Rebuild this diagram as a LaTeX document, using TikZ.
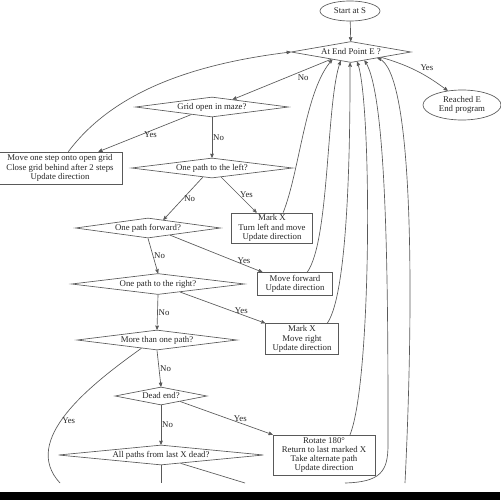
\documentclass[tikz,border=0pt]{standalone}
\usepackage{fontspec}
\setmainfont{Liberation Serif}
\usetikzlibrary{arrows}
\usetikzlibrary{shapes.geometric}

\definecolor{ink}{gray}{0.15}
\definecolor{wire}{gray}{0.35}
\newcommand{\px}{0.04cm}

\tikzset{
  test/.style={diamond, draw=wire, text=ink, inner sep=0pt},
  act/.style={rectangle, draw=wire, text=ink, align=center, inner sep=1pt},
  term/.style={ellipse, draw=wire, text=ink, align=center, inner sep=0pt},
  flow/.style={draw=wire, ->, >=stealth'},
  loose/.style={draw=wire},
  lbl/.style={text=ink, inner sep=1pt}
}

\begin{document}
\begin{tikzpicture}[x=\px, y=-\px, line width=.75pt, font=\fontsize{10}{10.5}\selectfont]
\useasboundingbox (0,0) rectangle (500,500);

% nodes
\node[term, minimum width=60*\px, minimum height=20*\px] (start) at (350,11) {Start at S};
\node[test, aspect=5.7, minimum width=120*\px, minimum height=21*\px] (endpt) at (351,52) {At End Point E ?};
\node[term, minimum width=78*\px, minimum height=30*\px] (reached) at (462,105) {Reached E\\End program};
\node[test, aspect=7.6, minimum width=153*\px, minimum height=20*\px] (gridopen) at (212,107) {Grid open in maze?};
\node[act, minimum width=124*\px, minimum height=32*\px] (movestep) at (60,168) {Move one step onto open grid\\Close grid behind after 2 steps\\Update direction};
\node[test, aspect=8, minimum width=161*\px, minimum height=20*\px] (leftpath) at (212,168) {One path to the left?};
\node[act, minimum width=81*\px, minimum height=30*\px] (turnleft) at (272,228) {Mark X\\Turn left and move\\Update direction};
\node[test, aspect=7.2, minimum width=145*\px, minimum height=20*\px] (fwd) at (148,228) {One path forward?};
\node[act, minimum width=75*\px, minimum height=23*\px] (movefwd) at (295,284) {Move forward\\Update direction};
\node[test, aspect=8.2, minimum width=173*\px, minimum height=21*\px] (rightpath) at (158,284) {One path to the right?};
\node[act, minimum width=73*\px, minimum height=31*\px] (moveright) at (302,339) {Mark X\\Move right\\Update direction};
\node[test, aspect=8, minimum width=160*\px, minimum height=20*\px] (morethan) at (157,340) {More than one path?};
\node[test, aspect=5.1, minimum width=92*\px, minimum height=18*\px] (deadend) at (161,396) {Dead end?};
\node[act, minimum width=102*\px, minimum height=40*\px] (rotate) at (324,455) {Rotate 180°\\Return to last marked X\\Take alternate path\\Update direction};
\node[test, aspect=10, minimum width=205*\px, minimum height=20*\px] (allpaths) at (161,455) {All paths from last X dead?};

% ends that leave the picture
\coordinate (outyes) at (60,483);
\coordinate (outdown) at (161,483);
\coordinate (outdiag) at (245,483);
\coordinate (inlow) at (345,483);
\coordinate (inright) at (405,483);

% edges
\draw[flow] (start) -- (endpt);
\draw[flow] (endpt.350) to[bend left=10] node[lbl, pos=.55, above right]{Yes} (reached.135);
\draw[flow] (endpt.200) -- node[lbl, pos=.35, below right]{No} (gridopen.20);
\draw[flow] (movestep.63) .. controls (113,92) and (192,64) .. (endpt.west);
\draw[flow] (gridopen.200) -- node[lbl, pos=.44, below]{Yes} (movestep.23);
\foreach \a/\b in {gridopen/leftpath, fwd/rightpath, rightpath/morethan, morethan/deadend, deadend/allpaths} {
  \draw[flow] (\a.south) -- node[lbl, right]{No} (\b.north);
}
\draw[flow] (leftpath.225) -- node[lbl, right]{No} (fwd.28);
\draw[flow] (leftpath.315) -- node[lbl, right]{Yes} (turnleft.135);
\draw[flow] (fwd.-18) -- node[lbl, pos=.8, above]{Yes} (movefwd.160);
\draw[flow] (rightpath.-20) -- node[lbl, pos=.72, above]{Yes} (moveright.north west);
\draw[flow] (deadend.-16) -- node[lbl, pos=.65, above]{Yes} (rotate.north west);

% back to the end point test
\draw[flow] (turnleft.54) .. controls (300,170) and (305,90) .. (endpt.202);
\draw[flow] (movefwd.44) .. controls (330,240) and (326,100) .. (endpt.221);
\draw[flow] (moveright.32) .. controls (350,290) and (350,120) .. (endpt.265);
\draw[flow] (rotate.38) .. controls (372,380) and (372,100) .. (endpt.302);
\draw[flow] (inlow) .. controls (380,482) and (388,472) .. (388,445) .. controls (388,300) and (388,95) .. (endpt.-32);
\draw[flow] (inright) .. controls (414,300) and (414,70) .. (endpt.-13);

% going on below
\draw[loose] (morethan.208) .. controls (90,385) and (20,440) .. node[lbl, pos=.55, right]{Yes} (outyes);
\draw[loose] (allpaths.south) -- (outdown);
\draw[loose] (allpaths.-23) -- (outdiag);

\fill[black] (0,492) rectangle (500,500);
\end{tikzpicture}
\end{document}
